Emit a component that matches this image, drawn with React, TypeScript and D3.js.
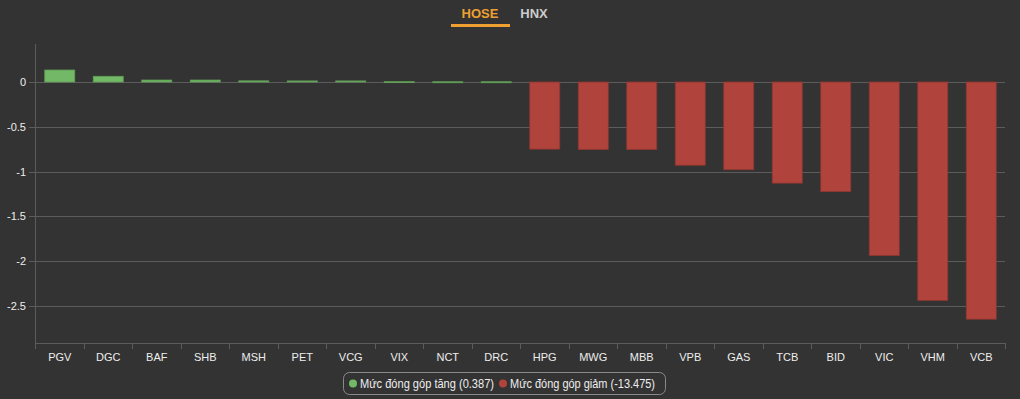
import React from "react";
import * as d3 from "d3";

const categories = ["PGV","DGC","BAF","SHB","MSH","PET","VCG","VIX","NCT","DRC","HPG","MWG","MBB","VPB","GAS","TCB","BID","VIC","VHM","VCB"];
const values = [0.134,0.064,0.022,0.022,0.013,0.012,0.012,0.004,0.003,0.003,-0.75,-0.755,-0.755,-0.93,-0.98,-1.13,-1.225,-1.94,-2.44,-2.65];
const yTicks = [0,-0.5,-1,-1.5,-2,-2.5];
const tabs = ["HOSE","HNX"];
const legendItems = [
  { label: "Mức đóng góp tăng (0.387)", color: "#72b866" },
  { label: "Mức đóng góp giảm (-13.475)", color: "#b0443c" },
];

const W = 1020, H = 399;
const left = 35, right = 1005, top = 44, bottom = 343;
const font = "'Liberation Sans', Arial, Helvetica, sans-serif";

export default function App() {
  const x = d3.scaleBand<string>().domain(categories).range([left, right]).paddingInner(0.38).paddingOuter(0.19);
  const y = d3.scaleLinear().domain([-2.916, 0.4246]).range([bottom, top]);
  const step = x.step();
  const bw = 30;
  return (
    <svg width={W} height={H} style={{ position: "absolute", left: 0, top: 0, background: "#333333" }}>
      <rect x={0} y={0} width={W} height={H} fill="#333333" />
      {/* tabs */}
      <text x={480} y={18} fill="#f0a030" fontFamily={font} fontSize={13} fontWeight="bold" textAnchor="middle">{tabs[0]}</text>
      <text x={534} y={18} fill="#cccccc" fontFamily={font} fontSize={13} fontWeight="bold" textAnchor="middle">{tabs[1]}</text>
      <rect x={451} y={24} width={59} height={3} fill="#f0a030" />
      {/* gridlines */}
      {yTicks.map((t) => (
        <g key={t}>
          <line x1={left - 6} x2={right} y1={Math.round(y(t)) + 0.5} y2={Math.round(y(t)) + 0.5} stroke="#5c5c5c" strokeWidth={1} />
          <text x={left - 9} y={y(t) + 4} fill="#eeeeee" fontFamily={font} fontSize={11} textAnchor="end">{t}</text>
        </g>
      ))}
      {/* bars */}
      {categories.map((c, i) => {
        const v = values[i];
        const cx = (x(c) as number) + x.bandwidth() / 2 + 0.5;
        const y0 = y(0), y1 = y(v);
        const pos = v >= 0;
        return (
          <rect key={c} x={cx - bw / 2} y={Math.min(y0, y1)} width={bw} height={Math.max(1, Math.abs(y1 - y0))}
            fill={pos ? "#72b866" : "#b0443c"} stroke={pos ? "#5f9c55" : "#8e3630"} strokeWidth={0.8} />
        );
      })}
      {/* y axis line */}
      <line x1={left + 0.5} x2={left + 0.5} y1={top} y2={bottom} stroke="#5c5c5c" />
      {/* x axis */}
      <line x1={left} x2={right + 0.5} y1={bottom + 0.5} y2={bottom + 0.5} stroke="#5c5c5c" />
      {categories.map((c, i) => {
        const bx = left + i * step;
        return <line key={"t" + c} x1={Math.round(bx) + 0.5} x2={Math.round(bx) + 0.5} y1={bottom} y2={bottom + 6} stroke="#5c5c5c" />;
      })}
      <line x1={right + 0.5} x2={right + 0.5} y1={bottom} y2={bottom + 6} stroke="#5c5c5c" />
      {categories.map((c) => (
        <text key={"l" + c} x={(x(c) as number) + x.bandwidth() / 2 + 0.5} y={361} fill="#eeeeee" fontFamily={font} fontSize={11} textAnchor="middle">{c}</text>
      ))}
      {/* legend */}
      <rect x={343.5} y={372.5} width={322} height={22} rx={6} fill="none" stroke="#8a8a8a" />
      <circle cx={353} cy={383.5} r={4} fill={legendItems[0].color} />
      <text x={360} y={388} fill="#eeeeee" fontFamily={font} fontSize={12} textLength={134} lengthAdjust="spacingAndGlyphs">{legendItems[0].label}</text>
      <circle cx={503} cy={383.5} r={4} fill={legendItems[1].color} />
      <text x={510} y={388} fill="#eeeeee" fontFamily={font} fontSize={12} textLength={145} lengthAdjust="spacingAndGlyphs">{legendItems[1].label}</text>
    </svg>
  );
}
